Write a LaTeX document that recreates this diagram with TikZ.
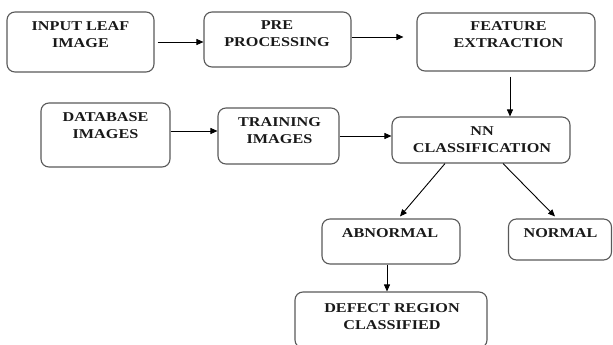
\documentclass[tikz,border=0pt]{standalone}
\usepackage{fontspec}
\setmainfont{Liberation Serif}[FakeStretch=1.2]
\usetikzlibrary{arrows.meta,calc}
\begin{document}
\begin{tikzpicture}[x=1pt,y=-1pt,
  box/.style={draw=black!65,line width=1.1pt,rounded corners=8pt,inner sep=0pt},
  lbl/.style={font=\fontsize{13.5}{17}\selectfont\bfseries,align=center,inner sep=0pt,text=black!90},
  arr/.style={draw=black,line width=0.9pt,-{Triangle[length=7pt,width=6pt]}}]
\useasboundingbox (0,0) rectangle (613,345);
% boxes
\node[box,minimum width=147pt,minimum height=60pt] (inp) at (80.5,42) {};
\node[box,minimum width=147pt,minimum height=55pt] (pre) at (277.5,39.5) {};
\node[box,minimum width=178pt,minimum height=58pt] (feat) at (506,42) {};
\node[box,minimum width=129pt,minimum height=64pt] (db) at (105.5,135) {};
\node[box,minimum width=121pt,minimum height=56pt] (tr) at (278.5,136) {};
\node[box,minimum width=178pt,minimum height=46pt] (nn) at (481,140) {};
\node[box,minimum width=138pt,minimum height=45pt] (ab) at (391,241.5) {};
\node[box,minimum width=103pt,minimum height=41pt] (nor) at (560,239.5) {};
\node[box,minimum width=192pt,minimum height=56pt] (def) at (391,320) {};
% labels
\node[lbl] (tinp) at (80.5,34.5) {INPUT LEAF\\IMAGE};
\node[lbl] (tpre) at (277,33.5) {PRE\\PROCESSING};
\node[lbl] (tfeat) at (508.5,34.5) {FEATURE\\EXTRACTION};
\node[lbl] (tdb) at (105.5,126) {DATABASE\\IMAGES};
\node[lbl] (ttr) at (279.5,131) {TRAINING\\IMAGES};
\node[lbl] (tnn) at (482,139.5) {NN\\CLASSIFICATION};
\node[lbl] (tab) at (390,233) {ABNORMAL};
\node[lbl] (tnor) at (560.5,233) {NORMAL};
\node[lbl] (tdef) at (392,316.5) {DEFECT REGION\\CLASSIFIED};
% connectors
\draw[arr] ($(inp.east)+(3,0)$) -- (pre.west |- inp.east);
\draw[arr] ($(pre.east)+(0,-2.5)$) -- ($(feat.west |- pre.east)+(-13,-2.5)$);
\draw[arr] ($(feat.south)+(4,5)$) -- ($(feat.south |- nn.north)+(4,0)$);
\draw[arr] ($(db.east)+(0,-4)$) -- ($(tr.west |- db.east)+(0,-4)$);
\draw[arr] (tr.east) -- (nn.west |- tr.east);
\draw[arr] ($(nn.south)+(-36,0)$) -- ($(ab.north)+(9,-2)$);
\draw[arr] ($(nn.south)+(22,0)$) -- ($(nor.north)+(-5,-2)$);
\draw[arr] ($(ab.south)+(-4,0)$) -- ($(def.north)+(-4,0)$);
\end{tikzpicture}
\end{document}
